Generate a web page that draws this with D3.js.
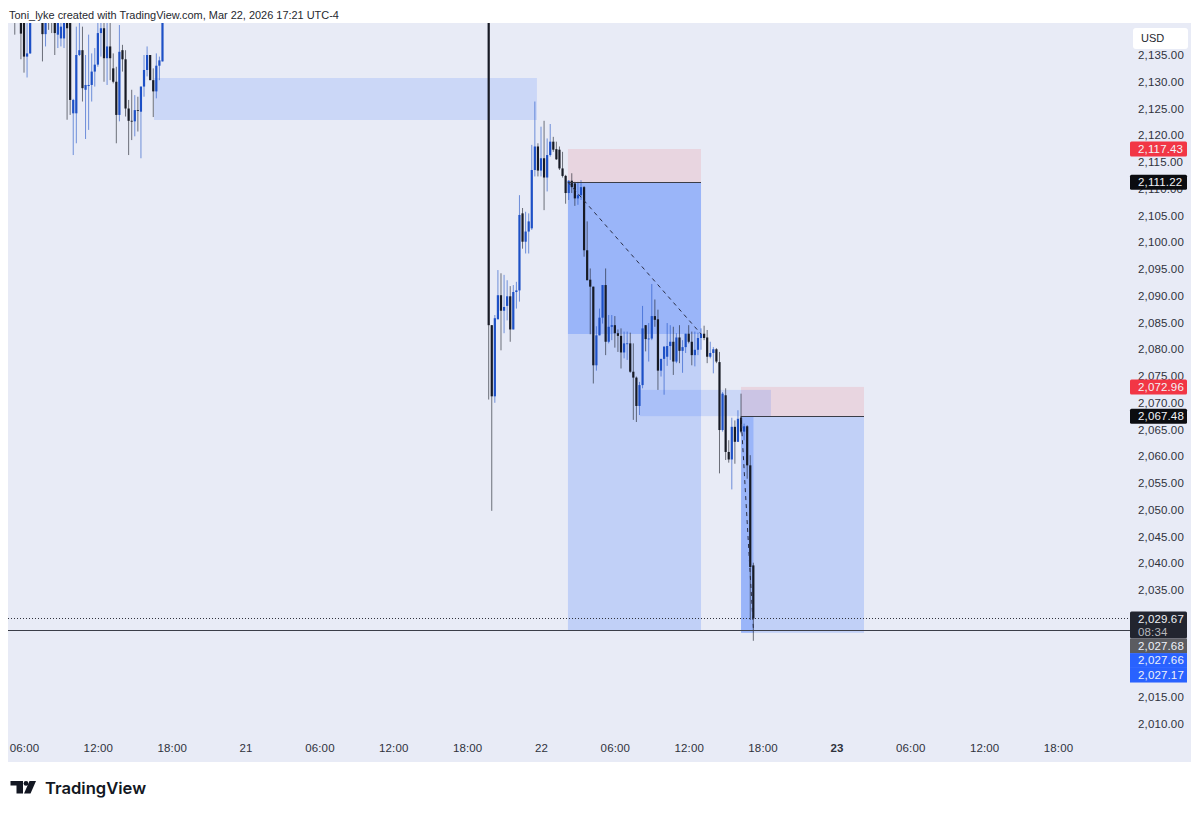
<!DOCTYPE html>
<html>
<head>
<meta charset="utf-8">
<script src="https://cdn.jsdelivr.net/npm/d3@7"></script>
<style>
  html, body { margin: 0; padding: 0; background: #fff; }
  svg { display: block; }
  text { font-family: "Liberation Sans", Arial, sans-serif; }
  .axis text { font-size: 11.5px; fill: #2f323c; letter-spacing: .15px; }
  .axis path, .axis line { display: none; }
</style>
</head>
<body>
<div id="container"></div>
<script>
const w = 1200;
const h = 813;

// candles. session one starts at 05:15 on the 20th, session two at 19:45 on the 21st
const sessionOneOpens = [
  2142,2143,2142,2142,2134.7,2135.3,2143,2143,2143,2143,
  2138.9,2142,2142,2141.6,2138.8,2138.1,2138.1,2142,2142,2124.1,
  2124.1,2135,2135.9,2128.5,2129.2,2129.4,2131.9,2133.2,2139.1,2140,
  2134.4,2136.6,2132.5,2130,2123.8,2135.9,2134.2,2125,2122.7,2122.6,
  2124.7,2124.4,2129.1,2132.2,2135,2130.3,2128.2,2133,2133.8];
const sessionOneCloses = [
  2141.5,2143.5,2139,2134.7,2135.3,2142,2144,2144,2144,2138.9,
  2141.5,2141.5,2141.6,2139.1,2142,2140.3,2142,2140,2126.6,2126.6,
  2135,2135.9,2128.8,2129.4,2129.4,2131.9,2133.2,2139.1,2140,2134.4,
  2136.6,2134.4,2130,2123.8,2135.6,2134.2,2125,2122.7,2122.6,2124.7,
  2124.6,2129.1,2132.2,2135,2130.3,2128.2,2133,2134,2142];
const sessionOneHighs = [
  2143,2144,2144,2143,2142,2143,2145,2145,2145,2144,
  2143,2143,2143,2143,2143,2141.5,2143,2143,2143,2126.8,
  2140.3,2141,2140.3,2135,2138.8,2135.3,2136.3,2141,2141,2141,
  2141,2141,2135.3,2132.8,2140.6,2136.9,2135.9,2126.6,2128.5,2127.5,
  2127.2,2129.1,2135,2136.6,2135,2132.5,2135.3,2134.7,2143];
const sessionOneLows = [
  2138.8,2142,2134.2,2131.7,2130.8,2135.2,2142,2142,2142,2133.8,
  2136.6,2139.7,2139.1,2135,2136.3,2136.6,2136.3,2122.9,2123.8,2116.3,
  2118.5,2134.8,2126.3,2119.3,2121,2126.3,2129.1,2132.8,2134.7,2130,
  2129.4,2130.3,2129.7,2118.5,2122.6,2131.9,2123.5,2116.3,2119.1,2119.8,
  2120.7,2115.7,2127.2,2131,2130.3,2123.4,2126.9,2130.3,2133.8];

const sessionTwoOpens = [
  2146,2084.5,2071.2,2085.6,2090.1,2087.2,2088.1,2089.9,2083.7,2090.7,
  2091,2105.4,2100.1,2102,2102.6,2113.5,2117.9,2113.4,2115.7,2112.1,
  2116.3,2118.8,2117.4,2117.3,2113.8,2112.4,2109.2,2111.5,2111,2108.2,
  2108.8,2110.3,2098.5,2093,2091.7,2077,2082.6,2085.9,2092,2081.4,
  2084.2,2084.5,2083,2082.5,2079.4,2081,2081.1,2075.8,2074.7,2069.4,
  2073.3,2084.5,2081.9,2082,2086.2,2085.6,2076,2078.2,2078.6,2080.6,
  2081.4,2077.7,2082.2,2079.7,2080.4,2082.9,2081.4,2078.9,2079.9,2082.1,
  2082.9,2082.2,2078.6,2079.3,2080,2077.6,2064.9,2071.4,2060.8,2059.4,
  2065.5,2062.7,2067.2,2064.6,2065.6,2058.3,2039.6];
const sessionTwoCloses = [
  2084.5,2071.2,2085.8,2090.1,2087.2,2087.9,2089.9,2083.7,2090.7,2091,
  2105.1,2100.1,2102,2103.9,2113.5,2117.9,2113.4,2115.7,2112.1,2116.3,
  2118.8,2117.3,2115.5,2113.8,2112.4,2109.2,2111.5,2110.3,2108.2,2108.8,
  2110.3,2098.5,2092.9,2091.7,2077,2082.6,2085.9,2092,2081.4,2084.2,
  2084.5,2083,2082.5,2079.4,2081.1,2081.1,2075.8,2074.7,2069.4,2073.3,
  2083.9,2081.9,2082,2086.2,2085.5,2076,2078.2,2080.5,2080.6,2081.4,
  2077.7,2082.2,2079.7,2080.4,2082.9,2081.4,2078.9,2079.9,2082.1,2082.9,
  2082.1,2078.6,2079.3,2080,2077.7,2064.9,2071.7,2060.8,2059.4,2065.5,
  2062.7,2067,2064.6,2065.6,2058.3,2039.3,2029.67];
const sessionTwoHighs = [
  2147,2084.5,2086.4,2094.8,2094.2,2093.9,2092.9,2091.8,2092,2092.6,
  2108.8,2106.4,2105.7,2105.4,2118.2,2126.3,2118.5,2121.6,2122.7,2119.4,
  2122.1,2119.7,2118.8,2117.9,2116.9,2112.6,2111.6,2112.9,2111.3,2111.3,
  2111.6,2110.5,2103.9,2095.1,2091.7,2084.3,2087.6,2092,2095.1,2086.4,
  2086.4,2086.2,2083.7,2083.9,2083.3,2083.3,2083.1,2081.1,2074.9,2073.9,
  2088.1,2084.5,2084.9,2092.2,2089.3,2087.4,2078.2,2080.5,2084.9,2084.5,
  2084.2,2083,2084.5,2081.7,2082.9,2084.5,2083.3,2083.3,2083.1,2083.9,
  2084.4,2083.6,2081.4,2080.4,2080.2,2079.5,2072,2072.7,2063,2067.2,
  2066.7,2068.6,2071.7,2066.1,2065.8,2060.2,2040.1];
const sessionTwoLows = [
  2070.6,2049.8,2070,2085.6,2079.8,2083,2085.4,2081.4,2083.7,2087.6,
  2088.9,2098.8,2097.9,2097.9,2102.3,2112.3,2112.3,2112.3,2106,2109.5,
  2116,2116.9,2115.4,2113.5,2112.1,2107.2,2107.9,2109.2,2106.8,2107,
  2107.9,2097.3,2092.9,2082.8,2073.6,2076,2082.6,2084.8,2078.9,2081.1,
  2081.7,2080.3,2079.5,2076.4,2078.3,2078,2075.6,2066.8,2066.4,2067.7,
  2072.7,2079.6,2077.7,2081.7,2084.2,2072.4,2074.9,2071.5,2076.9,2078,
  2075.2,2077.4,2077.4,2075.6,2079.3,2081.1,2077,2076.8,2078.9,2079.9,
  2081.7,2077.4,2078.3,2075.5,2077.4,2056.8,2064.6,2059.3,2058.8,2053.8,
  2058.6,2062.7,2064.3,2063,2055.8,2029.4,2025.5];

const candleStep = 0.25; // 15 minutes, in hours
const sessionOneStart = -0.75; // hours after 06:00 on the 20th
const sessionTwoStart = 37.75;

// axis ticks (2,030 to 2,020 sit under the stacked tags in the picture)
const priceTicks = [2135,2130,2125,2120,2115,2110,2105,2100,2095,2090,2085,2080,2075,2070,2065,2060,2055,2050,2045,2040,2035,2015,2010];
const timeTickHours = [0,6,12,18,24,30,36,42,48,54,60,66,72,78,84];
const timeTickLabels = ['06:00','12:00','18:00','21','06:00','12:00','18:00','22','06:00','12:00','18:00','23','06:00','12:00','18:00'];

// drawing tools, [start hour, end hour, top price, bottom price]
const zoneRects = [[10.56, 41.67, 2130.7, 2122.85], [50.04, 60.68, 2072.4, 2067.5]];
const stopRects = [[44.19, 55, 2117.43, 2111.22], [58.25, 68.24, 2072.96, 2067.48]];
const targetRects = [[44.19, 55, 2111.22, 2027.5], [58.25, 68.24, 2067.48, 2027]];
const filledRects = [[44.19, 55, 2111.22, 2082.85], [58.25, 59.26, 2067.48, 2027]];
const entryLines = [[44.19, 55, 2111.22], [58.25, 68.24, 2067.48]];
const pathLines = [[44.19, 2111.22, 55, 2082.85], [58.25, 2067.48, 59.26, 2027.5]];

const lastPrice = 2027.5;
const dottedPrice = 2029.67;

// price labels on the right, [text, price the box sits at, box colour]
const priceTags = [
  ['2,117.43', 2117.43, '#f23645'],
  ['2,111.22', 2111.22, '#0b0c10'],
  ['2,072.96', 2072.96, '#f23645'],
  ['2,067.48', 2067.48, '#0b0c10']
];
const stackLabels = ['2,027.68', '2,027.66', '2,027.17'];
const stackColors = ['#5b5c61', '#2962ff', '#2962ff'];

const chartLeft = 8;
const chartRight = 1191;
const chartTop = 23;
const chartBottom = 762;

const xScale = d3.scaleLinear().domain([0, 84]).range([24, 1058]);
const yScale = d3.scaleLinear().domain([2135, 2010]).range([55, 723.75]);

const candles = [];
sessionOneOpens.forEach((o, i) => candles.push({
  hour: sessionOneStart + i * candleStep, o,
  c: sessionOneCloses[i], hi: sessionOneHighs[i], lo: sessionOneLows[i]
}));
sessionTwoOpens.forEach((o, i) => candles.push({
  hour: sessionTwoStart + i * candleStep, o,
  c: sessionTwoCloses[i], hi: sessionTwoHighs[i], lo: sessionTwoLows[i]
}));

const svg = d3.select('#container').append('svg')
  .attr('width', w)
  .attr('height', h);

svg.append('defs').append('clipPath').attr('id', 'plot')
  .append('rect')
  .attr('x', chartLeft).attr('y', chartTop)
  .attr('width', 1122).attr('height', chartBottom - chartTop);

svg.append('text')
  .attr('x', 9).attr('y', 19)
  .style('font-size', '10.95px')
  .style('fill', '#26282f')
  .text('Toni_lyke created with TradingView.com, Mar 22, 2026 17:21 UTC-4');

svg.append('rect')
  .attr('x', chartLeft).attr('y', chartTop)
  .attr('width', chartRight - chartLeft).attr('height', chartBottom - chartTop)
  .attr('fill', '#e8ebf6');

const plot = svg.append('g').attr('clip-path', 'url(#plot)');

const drawRects = (rows, fill) => {
  plot.append('g').selectAll('rect')
    .data(rows)
    .enter().append('rect')
    .attr('x', d => xScale(d[0]))
    .attr('width', d => xScale(d[1]) - xScale(d[0]))
    .attr('y', d => yScale(d[2]))
    .attr('height', d => yScale(d[3]) - yScale(d[2]))
    .attr('fill', fill);
};

drawRects(targetRects, 'rgba(41,98,255,0.2)');
drawRects(filledRects, 'rgba(41,98,255,0.25)');
drawRects(stopRects, 'rgba(242,54,69,0.12)');
drawRects(zoneRects, 'rgba(41,98,255,0.15)');

// candles
const upColor = '#1d50c6';
const downColor = '#171a24';
const candleColor = d => d.c >= d.o ? upColor : downColor;

plot.append('g').selectAll('line')
  .data(candles)
  .enter().append('line')
  .attr('x1', d => xScale(d.hour))
  .attr('x2', d => xScale(d.hour))
  .attr('y1', d => yScale(d.hi))
  .attr('y2', d => yScale(d.lo))
  .attr('stroke', candleColor)
  .attr('stroke-opacity', 0.6)
  .attr('stroke-width', 1);

plot.append('g').selectAll('rect')
  .data(candles)
  .enter().append('rect')
  .attr('x', d => xScale(d.hour) - 1.1)
  .attr('width', 2.2)
  .attr('y', d => yScale(Math.max(d.o, d.c)))
  .attr('height', d => Math.max(0.8, Math.abs(yScale(d.o) - yScale(d.c))))
  .attr('fill', candleColor);

// position lines
plot.append('g').selectAll('line')
  .data(entryLines)
  .enter().append('line')
  .attr('x1', d => xScale(d[0]))
  .attr('x2', d => xScale(d[1]))
  .attr('y1', d => yScale(d[2]))
  .attr('y2', d => yScale(d[2]))
  .attr('stroke', '#3a3d48')
  .attr('stroke-width', 1)
  .attr('shape-rendering', 'crispEdges');

plot.append('g').selectAll('line')
  .data(pathLines)
  .enter().append('line')
  .attr('x1', d => xScale(d[0]))
  .attr('y1', d => yScale(d[1]))
  .attr('x2', d => xScale(d[2]))
  .attr('y2', d => yScale(d[3]))
  .attr('stroke', '#2a2e45')
  .attr('stroke-width', 1)
  .attr('stroke-dasharray', '4 4');

// current price lines
svg.append('line')
  .attr('x1', chartLeft).attr('x2', 1130)
  .attr('y1', yScale(dottedPrice)).attr('y2', yScale(dottedPrice))
  .attr('stroke', '#30333d')
  .attr('stroke-width', 1)
  .attr('stroke-dasharray', '1 2')
  .attr('shape-rendering', 'crispEdges');

svg.append('line')
  .attr('x1', chartLeft).attr('x2', 1130)
  .attr('y1', yScale(lastPrice)).attr('y2', yScale(lastPrice))
  .attr('stroke', '#3a3d48')
  .attr('stroke-width', 1)
  .attr('shape-rendering', 'crispEdges');

// axes
svg.append('g')
  .classed('axis', true)
  .attr('transform', 'translate(1132, 0)')
  .call(d3.axisRight(yScale).tickValues(priceTicks).tickSize(0).tickPadding(6)
    .tickFormat(d3.format(',.2f')));

svg.append('g')
  .classed('axis', true)
  .attr('transform', 'translate(0, 741)')
  .call(d3.axisBottom(xScale).tickValues(timeTickHours).tickSize(0).tickPadding(3)
    .tickFormat((d, i) => timeTickLabels[i]))
  .selectAll('text')
  .style('font-weight', (d, i) => timeTickLabels[i] === '23' ? 'bold' : 'normal');

// USD button
svg.append('rect')
  .attr('x', 1133).attr('y', 28)
  .attr('width', 55).attr('height', 21)
  .attr('rx', 3)
  .attr('fill', '#fff');
svg.append('text')
  .attr('x', 1141).attr('y', 42)
  .style('font-size', '11px')
  .style('fill', '#26282f')
  .text('USD');

// price tags
const tagX = 1130;
const tagW = 57;
const tagH = 15;

const tags = svg.append('g').selectAll('g')
  .data(priceTags)
  .enter().append('g')
  .attr('transform', d => `translate(${tagX}, ${yScale(d[1]) - tagH / 2})`);
tags.append('rect')
  .attr('width', tagW).attr('height', tagH).attr('rx', 1.5)
  .attr('fill', d => d[2]);
tags.append('text')
  .attr('x', 8).attr('y', 11.5)
  .style('font-size', '11.5px')
  .style('fill', '#f2f3f7')
  .style('letter-spacing', '.15px')
  .text(d => d[0]);

// stacked tags under the last price
const stackTop = yScale(dottedPrice) - 7;

svg.append('rect')
  .attr('x', tagX).attr('y', stackTop)
  .attr('width', tagW).attr('height', 27).attr('rx', 1.5)
  .attr('fill', '#22252f');
svg.append('text')
  .attr('x', tagX + 8).attr('y', stackTop + 11.5)
  .style('font-size', '11.5px').style('fill', '#eef0f4').style('letter-spacing', '.15px')
  .text('2,029.67');
svg.append('text')
  .attr('x', tagX + 8).attr('y', stackTop + 24)
  .style('font-size', '11.5px').style('fill', '#b6b8be').style('letter-spacing', '.15px')
  .text('08:34');

const stack = svg.append('g').selectAll('g')
  .data(stackLabels)
  .enter().append('g')
  .attr('transform', (d, i) => `translate(${tagX}, ${stackTop + 27 + i * 14.6})`);
stack.append('rect')
  .attr('width', tagW).attr('height', 14.8)
  .attr('fill', (d, i) => stackColors[i]);
stack.append('text')
  .attr('x', 8).attr('y', 11.3)
  .style('font-size', '11.5px')
  .style('fill', '#eef1f8')
  .style('letter-spacing', '.15px')
  .text(d => d);

// logo
const logo = svg.append('g').attr('fill', '#131722');
logo.append('path').attr('d', 'M10.5 781H23V793.5H16.5V785.5H10.5Z');
logo.append('circle').attr('cx', 26).attr('cy', 783.4).attr('r', 2.4);
logo.append('path').attr('d', 'M29.5 781H36L30.5 793.5H24Z');
svg.append('text')
  .attr('x', 45).attr('y', 793.5)
  .style('font-family', 'Inter, "Liberation Sans", sans-serif')
  .style('font-size', '16.6px')
  .style('font-weight', 600)
  .style('fill', '#131722')
  .text('TradingView');
</script>
</body>
</html>
